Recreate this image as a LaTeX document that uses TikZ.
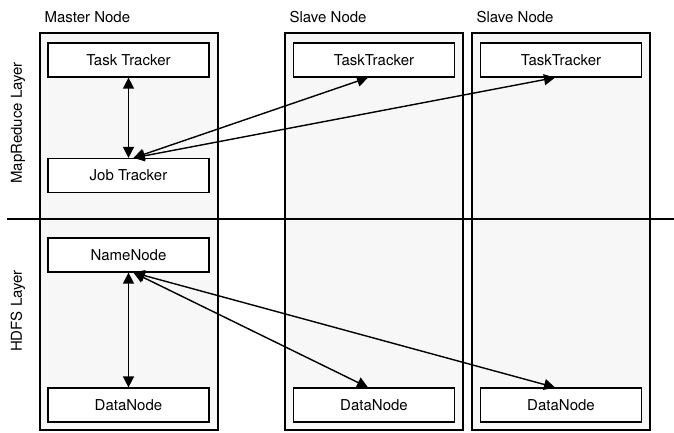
\documentclass[tikz,border=0pt]{standalone}
\usepackage{fontspec}
\setmainfont{TeX Gyre Heros}
\usetikzlibrary{arrows.meta, positioning, calc}
\tikzset{
	column/.style={rectangle, draw, fill=black!3, line width=1.2pt, minimum width=178pt, minimum height=397pt, inner sep=0pt},
	block/.style={rectangle, draw, fill=white, line width=1.2pt, minimum width=161pt, minimum height=34pt, inner sep=0pt, font=\fontsize{15}{18}\selectfont},
	title/.style={anchor=south west, inner sep=0pt, font=\fontsize{15}{18}\selectfont},
	layer/.style={rotate=90, inner sep=0pt, font=\fontsize{15}{18}\selectfont},
	line/.style={draw, line width=1.4pt, {Triangle[length=11pt, width=11pt]}-{Triangle[length=11pt, width=11pt]}}
}

\begin{document}
\begin{tikzpicture}[x=1pt, y=-1pt]
	\useasboundingbox (0,0) rectangle (674,432);

	% Columns
	\node[column] (master) at (129,231.5) {};
	\node[column] (slaveA) at (374,231.5) {};
	\node[column] (slaveB) at (561,231.5) {};
	\node[title] (mastertitle) at ($(master.north west)+(5,-9)$) {Master Node};
	\node[title] (slaveAtitle) at ($(slaveA.north west)+(5,-9)$) {Slave Node};
	\node[title] (slaveBtitle) at ($(slaveB.north west)+(5,-9)$) {Slave Node};

	% Layer separator
	\draw[line width=1.2pt] (7,219) -- (674,219);
	\node[layer] (mrlayer) at (18,123) {MapReduce Layer};
	\node[layer] (hdfslayer) at (18,311) {HDFS Layer};

	% MapReduce layer
	\node[block] (mtask) at (128.5,60) {Task Tracker};
	\node[block] (jobtr) at (128.5,175.5) {Job Tracker};
	\node[block] (taskA) at (374,60) {TaskTracker};
	\node[block] (taskB) at (561,60) {TaskTracker};

	% HDFS layer
	\node[block] (namend) at (128.5,255) {NameNode};
	\node[block] (mdata) at (128.5,405) {DataNode};
	\node[block] (dataA) at (374,405) {DataNode};
	\node[block] (dataB) at (561,405) {DataNode};

	% Connections
	\draw[line] (mtask.south) -- (jobtr.north);
	\draw[line] ([xshift=5pt]jobtr.north) -- ([xshift=-6pt]taskA.south);
	\draw[line] ([xshift=5pt]jobtr.north) -- ([xshift=-6pt]taskB.south);
	\draw[line] (namend.south) -- (mdata.north);
	\draw[line] ([xshift=5pt]namend.south) -- ([xshift=-6pt]dataA.north);
	\draw[line] ([xshift=5pt]namend.south) -- ([xshift=-6pt]dataB.north);
\end{tikzpicture}
\end{document}
